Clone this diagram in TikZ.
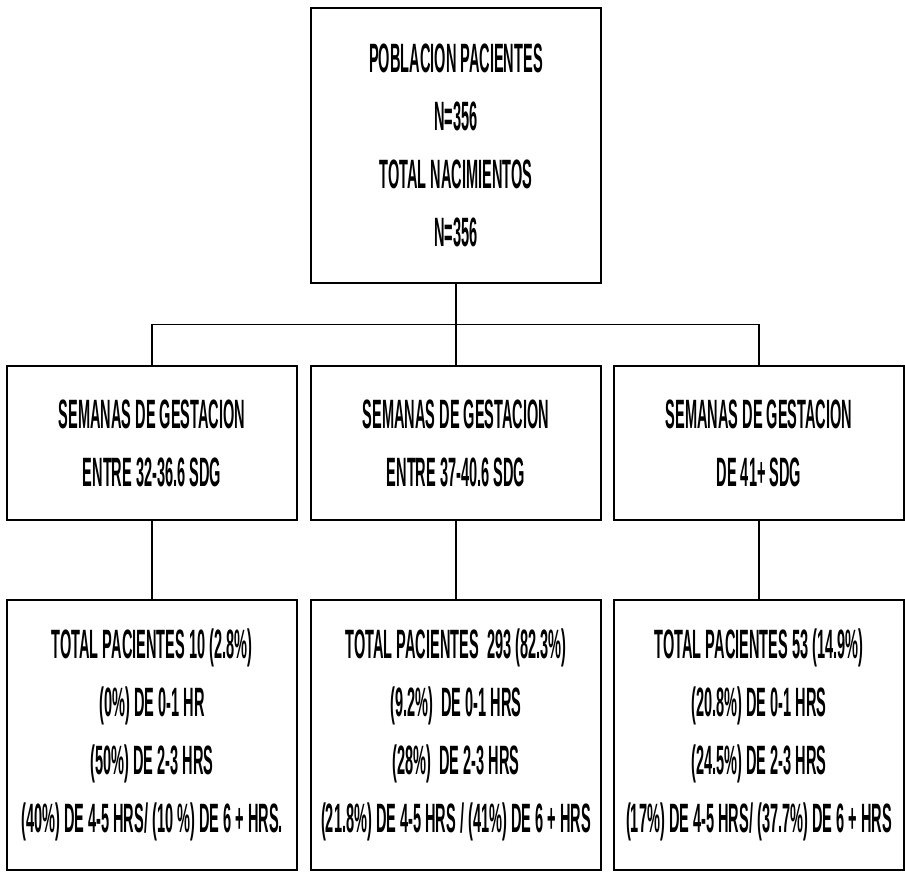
\documentclass[tikz,border=0pt]{standalone}
\usepackage{fontspec}
\usetikzlibrary{calc}
\newfontfamily\narrowsans[FakeStretch=0.355]{Liberation Sans Bold}

\tikzset{every picture/.style={line width=1.2pt}}
\tikzset{caja/.style={draw, rectangle, align=center, inner sep=0pt,
    minimum width=290pt, font=\narrowsans\fontsize{41}{58}\selectfont}}

\begin{document}
\begin{tikzpicture}[x=1pt, y=-1pt]
    \useasboundingbox (0,0) rectangle (905,875);
    \node[caja, minimum height=275pt] (pob) at (456,145.5) {POBLACION PACIENTES\\N=356\\TOTAL NACIMIENTOS\\N=356};
    \node[caja, minimum height=154pt] (sem1) at (152,443) {SEMANAS DE GESTACION\\ENTRE 32-36.6 SDG};
    \node[caja, minimum height=154pt] (sem2) at (456,443) {SEMANAS DE GESTACION\\ENTRE 37-40.6 SDG};
    \node[caja, minimum height=154pt] (sem3) at (759,443) {SEMANAS DE GESTACION\\DE 41+ SDG};
    \node[caja, minimum height=270pt] (tot1) at (152,735) {TOTAL PACIENTES 10 (2.8\%)\\(0\%) DE 0-1 HR\\(50\%) DE 2-3 HRS\\(40\%) DE 4-5 HRS/ (10 \%) DE 6 + HRS.};
    \node[caja, minimum height=270pt] (tot2) at (456,735) {TOTAL PACIENTES\ \ 293 (82.3\%)\\(9.2\%)\ \ DE 0-1 HRS\\(28\%)\ \ DE 2-3 HRS\\(21.8\%) DE 4-5 HRS / (41\%) DE 6 + HRS};
    \node[caja, minimum height=270pt] (tot3) at (759,735) {TOTAL PACIENTES 53 (14.9\%)\\(20.8\%) DE 0-1 HRS\\(24.5\%) DE 2-3 HRS\\(17\%) DE 4-5 HRS/ (37.7\%) DE 6 + HRS};
    \draw (pob.south) -- (sem2.north);
    \draw (sem1.north) |- ($(pob.south)!0.5!(sem2.north)$) -| (sem3.north);
    \draw (sem1.south) -- (tot1.north);
    \draw (sem2.south) -- (tot2.north);
    \draw (sem3.south) -- (tot3.north);
\end{tikzpicture}
\end{document}
